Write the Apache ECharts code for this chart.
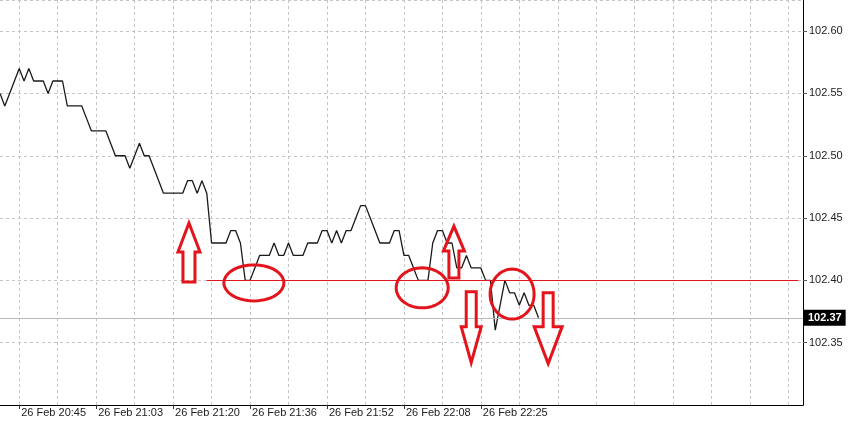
<!DOCTYPE html>
<html>
<head>
<meta charset="utf-8">
<script src="https://cdn.jsdelivr.net/npm/echarts@6/dist/echarts.min.js"></script>
<style>
html,body{margin:0;padding:0;background:#fff;}
#chart{width:850px;height:427px;}
</style>
</head>
<body>
<div id="chart"></div>
<script>
// ---- data ----
const barCount = 168;
const firstLabelBar = 4;
const barsPerLabel = 16;
const barsPerGrid = 8;
const tickLabels = ['26 Feb 20:45','26 Feb 21:03','26 Feb 21:20','26 Feb 21:36','26 Feb 21:52','26 Feb 22:08','26 Feb 22:25'];
const prices = [
  102.55,102.54,102.55,102.56,102.57,102.56,102.57,102.56,102.56,102.56,
  102.55,102.56,102.56,102.56,102.54,102.54,102.54,102.54,102.53,102.52,
  102.52,102.52,102.52,102.51,102.50,102.50,102.50,102.49,102.50,102.51,
  102.50,102.50,102.49,102.48,102.47,102.47,102.47,102.47,102.47,102.48,
  102.48,102.47,102.48,102.47,102.43,102.43,102.43,102.43,102.44,102.44,
  102.43,102.40,102.40,102.41,102.42,102.42,102.42,102.43,102.42,102.42,
  102.43,102.42,102.42,102.42,102.43,102.43,102.43,102.44,102.44,102.43,
  102.44,102.43,102.44,102.44,102.45,102.46,102.46,102.45,102.44,102.43,
  102.43,102.43,102.44,102.44,102.42,102.42,102.41,102.40,102.40,102.40,
  102.43,102.44,102.44,102.43,102.43,102.41,102.41,102.42,102.41,102.41,
  102.41,102.40,102.40,102.36,102.38,102.40,102.39,102.39,102.38,102.39,
  102.38,102.38,102.37
];
const yTicks = { min: 102.30, max: 102.625, step: 0.05 };
const currentPrice = 102.37;
const levelPrice = 102.40;
const levelStartBar = 43;
const levelEndBar = 166;
// annotations in data space: [bar, price, rx, ry]
const ellipses = [[52.8, 102.398, 30, 18], [87.8, 102.394, 26, 20], [106.5, 102.389, 22, 25]];
// arrows: [bar, price(tip), direction(1 up,-1 down), length, head, headHalf, shaftHalf]
const arrows = [
  [39.3, 102.446, 1, 59, 29, 11, 6],
  [94.4, 102.4436, 1, 52, 25, 10.5, 5],
  [98.0, 102.334, -1, 71, 36, 10, 5],
  [114.0, 102.3332, -1, 71, 37, 14, 5]
];

// ---- build ----
const categories = [];
for (let i = 0; i < barCount; i++) categories.push('b' + i);
function labelFor(i) {
  if (i < firstLabelBar || (i - firstLabelBar) % barsPerLabel !== 0) return '';
  const k = (i - firstLabelBar) / barsPerLabel;
  return tickLabels[k] || '';
}
const isLabelBar = (i) => labelFor(i) !== '';
const isGridBar = (i) => i >= firstLabelBar && (i - firstLabelBar) % barsPerGrid === 0;

const red = '#e3141c';
const chart = echarts.init(document.getElementById('chart'));
chart.setOption({
  animation: false,
  backgroundColor: '#ffffff',
  grid: { left: 0, right: 47, top: 0, bottom: 22, containLabel: false },
  xAxis: {
    type: 'category',
    data: categories,
    boundaryGap: false,
    axisLine: { show: true, lineStyle: { color: '#000', width: 1 } },
    axisTick: { show: true, interval: (i) => isLabelBar(i), length: 4, lineStyle: { color: '#333' } },
    axisLabel: {
      interval: (i) => isLabelBar(i),
      formatter: (v, i) => labelFor(i),
      align: 'left', margin: 2, padding: [0, 0, 0, 2],
      fontFamily: 'Liberation Sans', fontSize: 11, color: '#222'
    },
    splitLine: { show: true, interval: (i) => isGridBar(i), lineStyle: { color: '#c4c4c4', type: [3, 3], width: 1 } }
  },
  yAxis: {
    type: 'value',
    position: 'right',
    min: yTicks.min, max: yTicks.max, interval: yTicks.step,
    axisLine: { show: true, lineStyle: { color: '#000', width: 1 } },
    axisTick: { show: true, length: 4, lineStyle: { color: '#555' } },
    axisLabel: {
      showMinLabel: false, showMaxLabel: false, margin: 6,
      formatter: (v) => v.toFixed(2),
      fontFamily: 'Liberation Sans', fontSize: 11, color: '#222'
    },
    splitLine: { show: true, lineStyle: { color: '#c4c4c4', type: [3, 3], width: 1 } }
  },
  series: [{
    type: 'line',
    data: prices,
    symbol: 'none',
    lineStyle: { color: '#1a1a1a', width: 1.3 },
    z: 3,
    markLine: {
      silent: true,
      symbol: ['none', 'none'],
      animation: false,
      data: [
        {
          yAxis: currentPrice,
          lineStyle: { color: '#b8b8b8', width: 1, type: 'solid' },
          label: {
            show: true, position: 'end', distance: 1,
            formatter: currentPrice.toFixed(2),
            backgroundColor: '#000', color: '#fff',
            padding: [3, 4, 2, 4],
            fontFamily: 'Liberation Sans', fontSize: 11, fontWeight: 'bold'
          }
        },
        [
          { coord: [levelStartBar, levelPrice], lineStyle: { color: red, width: 1.2, type: 'solid' }, label: { show: false } },
          { coord: [levelEndBar, levelPrice] }
        ]
      ]
    }
  }]
});

function px(bar, price) {
  const a = chart.convertToPixel({ xAxisIndex: 0, yAxisIndex: 0 }, [0, price]);
  const b = chart.convertToPixel({ xAxisIndex: 0, yAxisIndex: 0 }, [1, price]);
  return [a[0] + bar * (b[0] - a[0]), a[1]];
}
const graphics = [];
ellipses.forEach(([bar, price, rx, ry]) => {
  const c = px(bar, price);
  const pts = [];
  for (let k = 0; k < 64; k++) {
    const t = k / 64 * Math.PI * 2;
    pts.push([c[0] + rx * Math.cos(t), c[1] + ry * Math.sin(t)]);
  }
  graphics.push({ type: 'polygon', shape: { points: pts }, style: { fill: null, stroke: red, lineWidth: 3 }, z: 10 });
});
arrows.forEach(([bar, price, dir, L, H, hw, sw]) => {
  const t = px(bar, price);
  const d = dir;
  const pts = [
    [t[0], t[1]],
    [t[0] + hw, t[1] + d * H],
    [t[0] + sw, t[1] + d * H],
    [t[0] + sw, t[1] + d * L],
    [t[0] - sw, t[1] + d * L],
    [t[0] - sw, t[1] + d * H],
    [t[0] - hw, t[1] + d * H]
  ];
  graphics.push({ type: 'polygon', shape: { points: pts }, style: { fill: null, stroke: red, lineWidth: 3, lineJoin: 'miter' }, z: 10 });
});
chart.setOption({ graphic: graphics });
</script>
</body>
</html>
